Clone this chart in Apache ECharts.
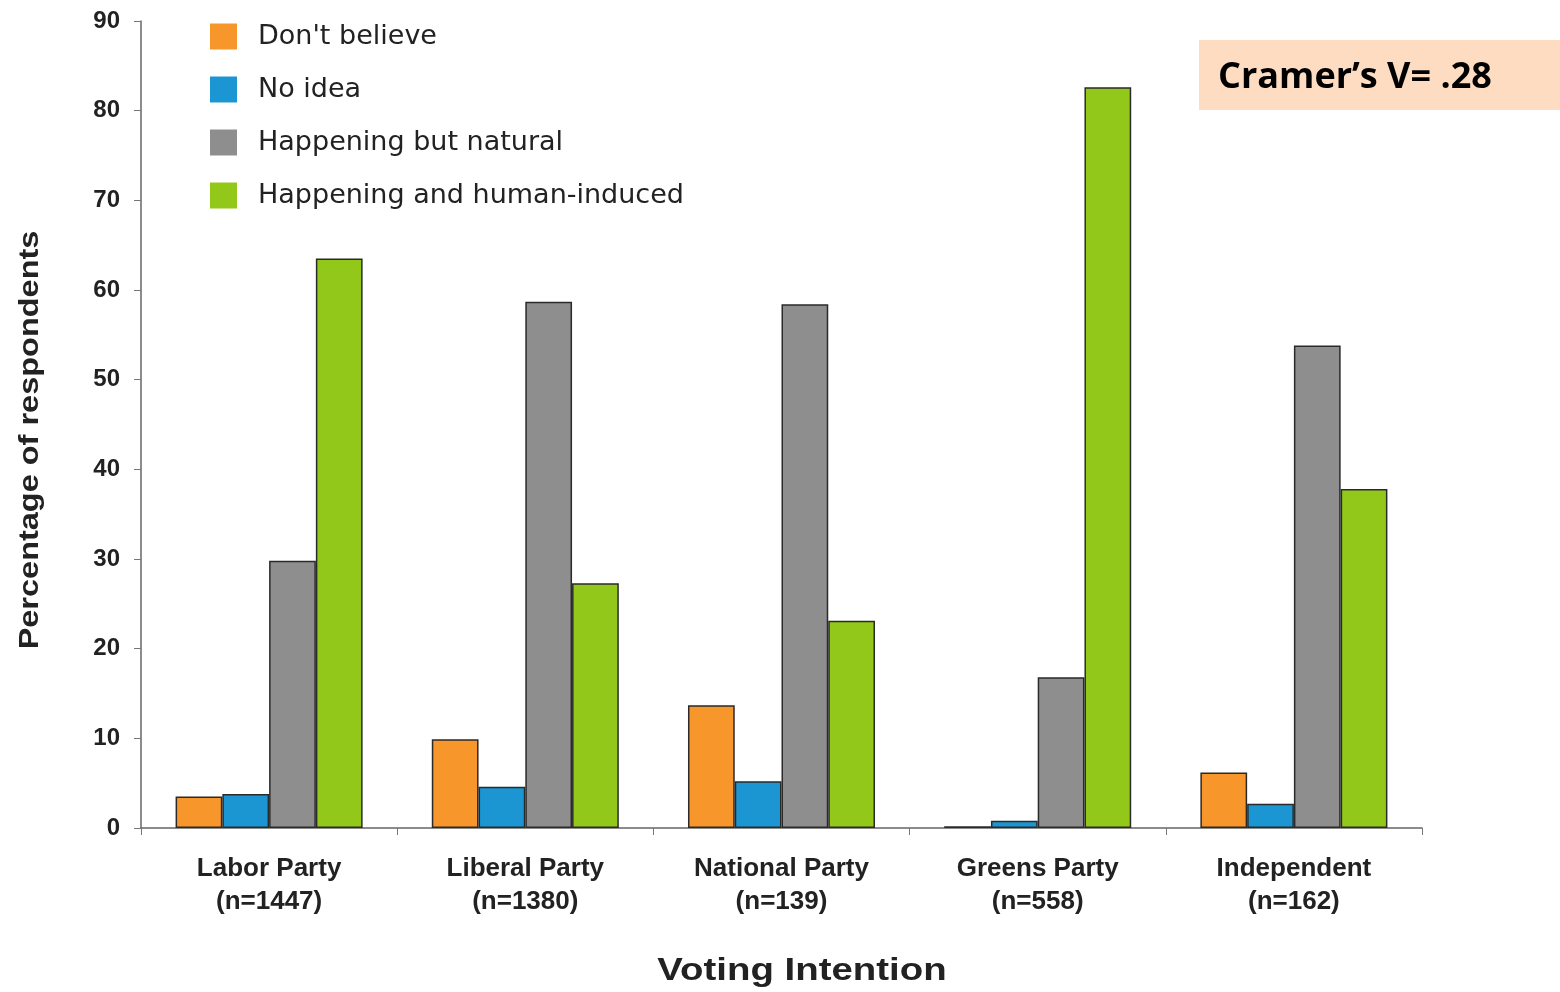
<!DOCTYPE html>
<html>
<head>
<meta charset="utf-8">
<script src="https://cdn.jsdelivr.net/npm/echarts@6/dist/echarts.min.js"></script>
<style>html,body{margin:0;padding:0;background:#fff}#c{width:1560px;height:992px}</style>
</head>
<body>
<div id="c"></div>
<script>
var categories = ['Labor Party\n(n=1447)', 'Liberal Party\n(n=1380)', 'National Party\n(n=139)', 'Greens Party\n(n=558)', 'Independent\n(n=162)'];
var dontBelieve = [3.5, 9.9, 13.7, 0.2, 6.2];
var noIdea = [3.8, 4.6, 5.2, 0.8, 2.7];
var naturalCause = [29.8, 58.7, 58.4, 16.8, 53.8];
var humanInduced = [63.5, 27.3, 23.1, 82.6, 37.8];
var seriesNames = ["Don't believe", 'No idea', 'Happening but natural', 'Happening and human-induced'];
var seriesColors = ['#F7962A', '#1B96D2', '#8E8E8E', '#92C81A'];
var yTicks = [0, 10, 20, 30, 40, 50, 60, 70, 80, 90];
var yAxisTitle = 'Percentage of respondents';
var xAxisTitle = 'Voting Intention';
var noteText = 'Cramer\u2019s V= .28';

var chart = echarts.init(document.getElementById('c'), null, {renderer: 'canvas'});
var font = 'Liberation Sans, Arial, sans-serif';
var seriesData = [dontBelieve, noIdea, naturalCause, humanInduced];
var series = seriesData.map(function (d, i) {
  return {
    name: seriesNames[i], type: 'bar', data: d,
    barGap: '0%', barCategoryGap: '27%',
    itemStyle: {color: seriesColors[i], borderColor: '#2a2a2a', borderWidth: 1.5},
    emphasis: {disabled: true}
  };
});
chart.setOption({
  animation: false,
  backgroundColor: '#ffffff',
  grid: {left: 141, right: 138, top: 21, bottom: 164},
  legend: {
    orient: 'vertical', left: 210, top: 23, padding: 0,
    itemWidth: 27, itemHeight: 26, itemGap: 26,
    icon: 'rect',
    itemStyle: {borderWidth: 0},
    textStyle: {fontFamily: '"DejaVu Sans", sans-serif', fontSize: 27, lineHeight: 26, color: '#222', padding: [0, 0, 0, 16]},
    data: seriesNames
  },
  xAxis: {
    type: 'category', data: categories,
    axisLine: {lineStyle: {color: '#666', width: 1.5}},
    axisTick: {show: true, length: 7, lineStyle: {color: '#777'}},
    axisLabel: {fontFamily: font, fontWeight: 'bold', fontSize: 26, color: '#222', lineHeight: 33, margin: 24}
  },
  yAxis: {
    type: 'value', min: yTicks[0], max: yTicks[yTicks.length - 1], interval: 10,
    axisLine: {show: true, lineStyle: {color: '#666', width: 1.5}},
    axisTick: {show: true, length: 7, lineStyle: {color: '#777'}},
    splitLine: {show: false},
    axisLabel: {fontFamily: font, fontWeight: 'bold', fontSize: 24, color: '#222', margin: 21}
  },
  graphic: [
    {type: 'text', x: 30, y: 440, rotation: Math.PI / 2, scaleX: 1.16,
     style: {text: yAxisTitle, font: 'bold 28px ' + font, fill: '#222', align: 'center', verticalAlign: 'middle'}},
    {type: 'text', x: 802, y: 971, scaleX: 1.2,
     style: {text: xAxisTitle, font: 'bold 32px ' + font, fill: '#222', align: 'center', verticalAlign: 'middle'}},
    {type: 'rect', x: 1199, y: 40, shape: {width: 361, height: 70}, style: {fill: '#FDDCC1'}},
    {type: 'text', x: 1218, y: 78,
     style: {text: noteText, font: 'bold 36px "Open Sans", ' + font, fill: '#000', verticalAlign: 'middle'}}
  ],
  series: series
});
</script>
</body>
</html>
